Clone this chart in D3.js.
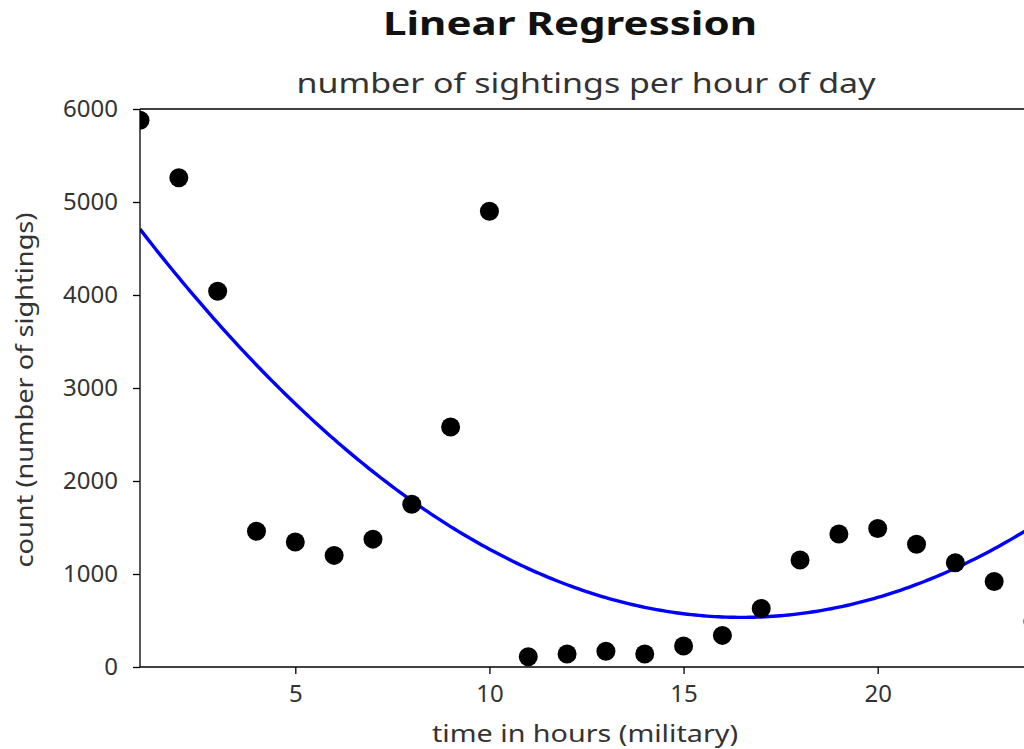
<!DOCTYPE html>
<html>
<head>
<meta charset="utf-8">
<script src="https://cdn.jsdelivr.net/npm/d3@7"></script>
<style>
  body { margin: 0; background: #fff; }
  text { font-family: "Noto Sans", sans-serif; }
</style>
</head>
<body>
<div id="chart"></div>
<script>
// sightings per hour of day
const hours = [1, 2, 3, 4, 5, 6, 7, 8, 9, 10, 11, 12, 13, 14, 15, 16, 17, 18, 19, 20, 21, 22, 23, 24];
const counts = [5880, 5260, 4040, 1460, 1345, 1200, 1375, 1750, 2580, 4900, 110, 140, 170, 140, 225, 340, 630, 1150, 1430, 1490, 1320, 1120, 920, 490];
const xTicks = [5, 10, 15, 20];
const yTicks = [0, 1000, 2000, 3000, 4000, 5000, 6000];

const data = hours.map((h, i) => ({hour: h, count: counts[i]}));

const margin = {top: 109, right: -9, bottom: 82, left: 140};
const width = 1024 - margin.left - margin.right;
const height = 749 - margin.top - margin.bottom;

const svg = d3.select("#chart")
    .append("svg")
    .attr("width", 1024)
    .attr("height", 749);

const g = svg.append("g")
    .attr("transform", `translate(${margin.left},${margin.top})`);

const x = d3.scaleLinear()
    .domain([1, 24])
    .range([0, width]);

const y = d3.scaleLinear()
    .domain([0, 6000])
    .range([height, 0]);

// degree 2 least squares fit of the points
function polyfit2(xs, ys) {
    const S = k => d3.sum(xs, v => Math.pow(v, k));
    const T = k => d3.sum(xs, (v, i) => Math.pow(v, k) * ys[i]);
    const A = [[S(0), S(1), S(2)], [S(1), S(2), S(3)], [S(2), S(3), S(4)]];
    const b = [T(0), T(1), T(2)];
    const n = 3;
    for (let c = 0; c < n; c++) {
        for (let r = c + 1; r < n; r++) {
            const f = A[r][c] / A[c][c];
            for (let k = c; k < n; k++) A[r][k] -= f * A[c][k];
            b[r] -= f * b[c];
        }
    }
    const coef = [0, 0, 0];
    for (let r = n - 1; r >= 0; r--) {
        let s = b[r];
        for (let k = r + 1; k < n; k++) s -= A[r][k] * coef[k];
        coef[r] = s / A[r][r];
    }
    return coef;
}
const coef = polyfit2(hours, counts);
const fitLine = d3.range(1, 24.01, 0.1).map(h => ({hour: h, count: coef[0] + coef[1] * h + coef[2] * h * h}));

g.append("clipPath").attr("id", "clip")
    .append("rect").attr("width", width).attr("height", height);

const plot = g.append("g").attr("clip-path", "url(#clip)");

plot.append("path")
    .datum(fitLine)
    .attr("fill", "none")
    .attr("stroke", "#0000ff")
    .attr("stroke-width", 3.4)
    .attr("d", d3.line()
        .x(d => x(d.hour))
        .y(d => y(d.count)));

plot.selectAll("circle")
    .data(data)
    .enter()
    .append("circle")
    .attr("cx", d => x(d.hour))
    .attr("cy", d => y(d.count))
    .attr("r", 9.5)
    .attr("fill", "#000");

// axes
const xAxis = g.append("g")
    .attr("transform", `translate(0,${height})`)
    .call(d3.axisBottom(x).tickValues(xTicks).tickFormat(d3.format("d")).tickSize(7).tickPadding(11));

const yAxis = g.append("g")
    .call(d3.axisLeft(y).tickValues(yTicks).tickFormat(d3.format("d")).tickSize(7).tickPadding(15));

[xAxis, yAxis].forEach(a => {
    a.selectAll("path, line").attr("stroke", "#000").attr("stroke-width", 1.3);
    a.selectAll("text").attr("font-size", 24).attr("fill", "#333")
        .attr("font-family", "Noto Sans, sans-serif");
});
xAxis.select(".domain").attr("d", `M0,0H${width}`);
yAxis.select(".domain").attr("d", `M0,0V${height}`);

// top spine
g.append("line")
    .attr("x1", 0).attr("x2", width)
    .attr("y1", 0).attr("y2", 0)
    .attr("stroke", "#000").attr("stroke-width", 1.3);

// titles
svg.append("text")
    .attr("x", 570)
    .attr("y", 35)
    .attr("text-anchor", "middle")
    .attr("font-size", 33)
    .attr("font-weight", "bold")
    .attr("fill", "#111")
    .attr("textLength", 374)
    .attr("lengthAdjust", "spacingAndGlyphs")
    .text("Linear Regression");

svg.append("text")
    .attr("x", 586)
    .attr("y", 93)
    .attr("text-anchor", "middle")
    .attr("font-size", 27)
    .attr("fill", "#333")
    .attr("textLength", 579)
    .attr("lengthAdjust", "spacingAndGlyphs")
    .text("number of sightings per hour of day");

svg.append("text")
    .attr("x", 585)
    .attr("y", 742)
    .attr("text-anchor", "middle")
    .attr("font-size", 23)
    .attr("fill", "#333")
    .attr("textLength", 306)
    .attr("lengthAdjust", "spacingAndGlyphs")
    .text("time in hours (military)");

svg.append("text")
    .attr("transform", `translate(33,390) rotate(-90)`)
    .attr("text-anchor", "middle")
    .attr("font-size", 23)
    .attr("fill", "#333")
    .attr("textLength", 355)
    .attr("lengthAdjust", "spacingAndGlyphs")
    .text("count (number of sightings)");
</script>
</body>
</html>
